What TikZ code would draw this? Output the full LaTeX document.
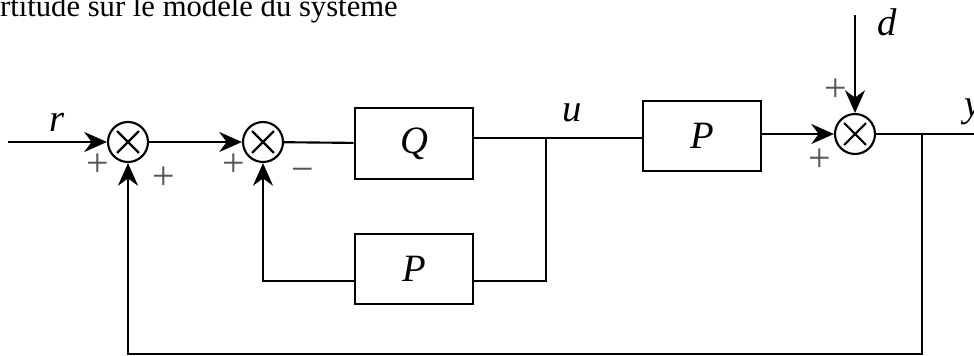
\documentclass[tikz,border=0pt]{standalone}
\usepackage{fontspec}
\setmainfont{Liberation Serif}
\usetikzlibrary{arrows.meta, calc}
\definecolor{gray1}{RGB}{85,85,85}

\begin{document}
\begin{tikzpicture}[
  x=0.75pt, y=-0.75pt,
  line width=1.6pt,
  block/.style={rectangle, draw, minimum width=89pt, minimum height=53pt,
                inner sep=0pt, font=\fontsize{29}{32}\selectfont\itshape},
  sum/.style={circle, draw, minimum size=30pt, inner sep=0pt,
              path picture={
                \draw ($(path picture bounding box.center)+(-8.2pt,-8.2pt)$) -- +(16.4pt,16.4pt)
                      ($(path picture bounding box.center)+(-8.2pt,8.2pt)$) -- +(16.4pt,-16.4pt);}},
  arr/.style={-{Stealth[length=17pt, width=15pt, inset=5.5pt]}},
  lbl/.style={font=\fontsize{29}{32}\selectfont\itshape, inner sep=0pt},
  sgn/.style={font=\fontsize{30}{32}\selectfont, text=gray1, inner sep=0pt},
]
\useasboundingbox (0,0) rectangle (974,356);

\node[anchor=base west, inner sep=0pt, font=\fontsize{23}{26}\selectfont] (title)
  at (-1,17) {rtitude sur le modèle du système};

% summing junctions and blocks
\node[sum]   (s1) at (128,142) {};
\node[sum]   (s2) at (263,142) {};
\node[block] (Q)  at (414,143.5) {Q};
\node[block] (P)  at (702,136) {P};
\node[sum]   (s3) at (855,134) {};
\node[block] (Pm) at (414,269) {P};

% branch points and path corners
\coordinate (in)    at (8,142);
\coordinate (u)     at (546,138);
\coordinate (dist)  at (855,15);
\coordinate (ytap)  at (922,134);
\coordinate (out)   at (974,134);
\coordinate (fb)    at (128,354);
\coordinate (loopR) at (546,281);
\coordinate (loopL) at (263,281);

% forward path
\draw[arr] (in) -- (s1);
\draw[arr] (s1) -- (s2);
\draw (s2) -- (Q);
\draw (Q.east |- u) -- (P.west |- u);
\draw[arr] (P.east |- s3) -- (s3);
\draw[arr] (dist) -- (s3);
\draw (s3) -- (out);

% inner loop through the model
\draw (u) -- (loopR) -- (Pm.east |- loopR);
\draw[arr] (Pm.west |- loopL) -- (loopL) -- (s2);

% outer feedback
\draw[arr] (ytap) |- (fb) -- (s1);

% signals
\node[lbl] (rlab) at (57,122) {r};
\node[lbl] (ulab) at (572,113) {u};
\node[lbl] (dlab) at (887,22) {d};
\node[lbl, anchor=west] (ylab) at (963,112) {y};

% signs
\node[sgn] (p1) at (98,165) {+};
\node[sgn] (p2) at (164,178) {+};
\node[sgn] (p3) at (234,165) {+};
\node[sgn] (m1) at (303,175) {−};
\node[sgn] (p4) at (836,90) {+};
\node[sgn] (p5) at (820,160) {+};

\end{tikzpicture}
\end{document}
